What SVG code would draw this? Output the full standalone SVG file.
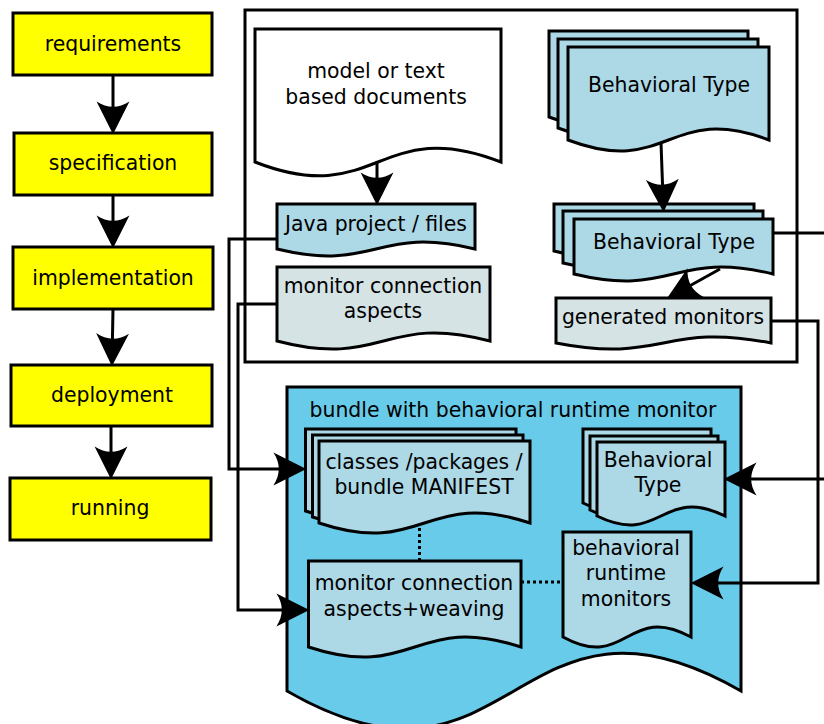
<svg xmlns="http://www.w3.org/2000/svg" width="824" height="724" viewBox="0 0 824 724">
<defs>
<style>
text{font-family:"DejaVu Sans","Liberation Sans",sans-serif;font-size:20.4px;fill:#000;text-anchor:middle}
.y{fill:#ffff00;stroke:#000;stroke-width:3}
.d{stroke:#000;stroke-width:3;stroke-linejoin:miter}
.w{fill:#fff}
.b{fill:#add8e6}
.g{fill:#d5e3e5}
.bundle{fill:#69cbea}
.c{fill:none;stroke:#000;stroke-width:3}
.dot{fill:none;stroke:#000;stroke-width:3;stroke-dasharray:3,3}
</style>
<marker id="ah" markerUnits="userSpaceOnUse" markerWidth="40" markerHeight="40" viewBox="-22 -13 28 26" refX="0" refY="0" orient="auto" overflow="visible">
<path d="M3,0 L-20,-11.5 C-15,-4 -15,4 -20,11.5 Z" fill="#000"/>
</marker>
</defs>
<rect x="245" y="10" width="552" height="352" fill="none" stroke="#000" stroke-width="3"/>
<g id="requirements"><rect class="y" x="13" y="13" width="199" height="62"/><text x="113" y="51">requirements</text></g>
<g id="specification"><rect class="y" x="14" y="133" width="198" height="62"/><text x="113" y="170">specification</text></g>
<g id="implementation"><rect class="y" x="13" y="247" width="200" height="62"/><text x="113" y="285">implementation</text></g>
<g id="deployment"><rect class="y" x="11" y="365" width="201" height="61"/><text x="112" y="402">deployment</text></g>
<g id="running"><rect class="y" x="10" y="478" width="201" height="62"/><text x="110" y="515">running</text></g>
<g id="model-docs"><path class="d w" d="M255,29 H501 V162 C378,114 378,210 255,162 Z"/><text x="376" y="78">model or text</text><text x="376" y="104">based documents</text></g>
<g id="java-project"><path class="d b" d="M277,204 H475 V249 C376,225 376,273 277,249 Z"/><text x="376" y="231">Java project / files</text></g>
<g id="monitor-aspects"><path class="d g" d="M277,267 H490 V341 C383.5,313 383.5,369 277,341 Z"/><text x="383" y="293">monitor connection</text><text x="383" y="318">aspects</text></g>
<g id="behavioral-type-src">
<path class="d b" d="M549,31 H748 V117 C648.5,79 648.5,155 549,117 Z"/>
<path class="d b" d="M558,39 H758 V128 C658,90 658,166 558,128 Z"/>
<path class="d b" d="M568,47 H769 V140 C668.5,102 668.5,178 568,140 Z"/>
<text x="669" y="92">Behavioral Type</text></g>
<g id="behavioral-type-gen">
<path class="d b" d="M554,204 H754 V251 C654,227 654,275 554,251 Z"/>
<path class="d b" d="M563,211 H763 V263 C663,239 663,287 563,263 Z"/>
<path class="d b" d="M574,219 H773 V274 C673.5,250 673.5,298 574,274 Z"/>
<text x="674" y="249">Behavioral Type</text></g>
<g id="generated-monitors"><path class="d g" d="M556,298 H771 V343 C663.5,322 663.5,364 556,343 Z"/><text x="663" y="324">generated monitors</text></g>
<g id="bundle"><path class="d bundle" d="M287,387 H741 V691 C514,560 514,822 287,691 Z"/><text x="513" y="417">bundle with behavioral runtime monitor</text></g>
<g id="classes">
<path class="d b" d="M305.5,429 H516 V511 C410.75,476 410.75,546 305.5,511 Z"/>
<path class="d b" d="M312.5,435 H523 V517 C417.75,482 417.75,552 312.5,517 Z"/>
<path class="d b" d="M319,441 H530 V523 C424.5,488 424.5,558 319,523 Z"/>
<text x="424" y="469">classes /packages /</text><text x="424" y="494">bundle MANIFEST</text></g>
<g id="behavioral-type-bundle">
<path class="d b" d="M583,429 H711 V503 C647,472 647,534 583,503 Z"/>
<path class="d b" d="M590,436 H718 V510 C654,479 654,541 590,510 Z"/>
<path class="d b" d="M597,442 H725 V516 C661,485 661,547 597,516 Z"/>
<text x="658" y="467">Behavioral</text><text x="658" y="492">Type</text></g>
<g id="runtime-monitors"><path class="d b" d="M563,532 H691 V637 C627,602 627,672 563,637 Z"/><text x="626" y="555">behavioral</text><text x="626" y="580">runtime</text><text x="626" y="606">monitors</text></g>
<g id="aspects-weaving"><path class="d b" d="M308.5,561 H521 V647 C414.75,612 414.75,682 308.5,647 Z"/><text x="414" y="590">monitor connection</text><text x="414" y="616">aspects+weaving</text></g>
<g id="connectors">
<path class="c" marker-end="url(#ah)" d="M113,75 V130"/>
<path class="c" marker-end="url(#ah)" d="M113,195 V244"/>
<path class="c" marker-end="url(#ah)" d="M113,309 L112,362"/>
<path class="c" marker-end="url(#ah)" d="M111,426 V475"/>
<path class="c" marker-end="url(#ah)" d="M377,162 V201"/>
<path class="c" marker-end="url(#ah)" d="M661,143 L663.4,208"/>
<path class="c" marker-end="url(#ah)" d="M720,269 L670.6,296.5"/>
<path class="c" marker-end="url(#ah)" d="M277,239 H229 V469 H302"/>
<path class="c" marker-end="url(#ah)" d="M277,304 H238 V610 H305"/>
<path class="c" marker-end="url(#ah)" d="M773,233 H830 V479 H728"/>
<path class="c" marker-end="url(#ah)" d="M771,321 H818 V583 H695"/>
<path class="dot" d="M419.5,528 V561"/>
<path class="dot" d="M521,582 H563"/>
</g>
</svg>
